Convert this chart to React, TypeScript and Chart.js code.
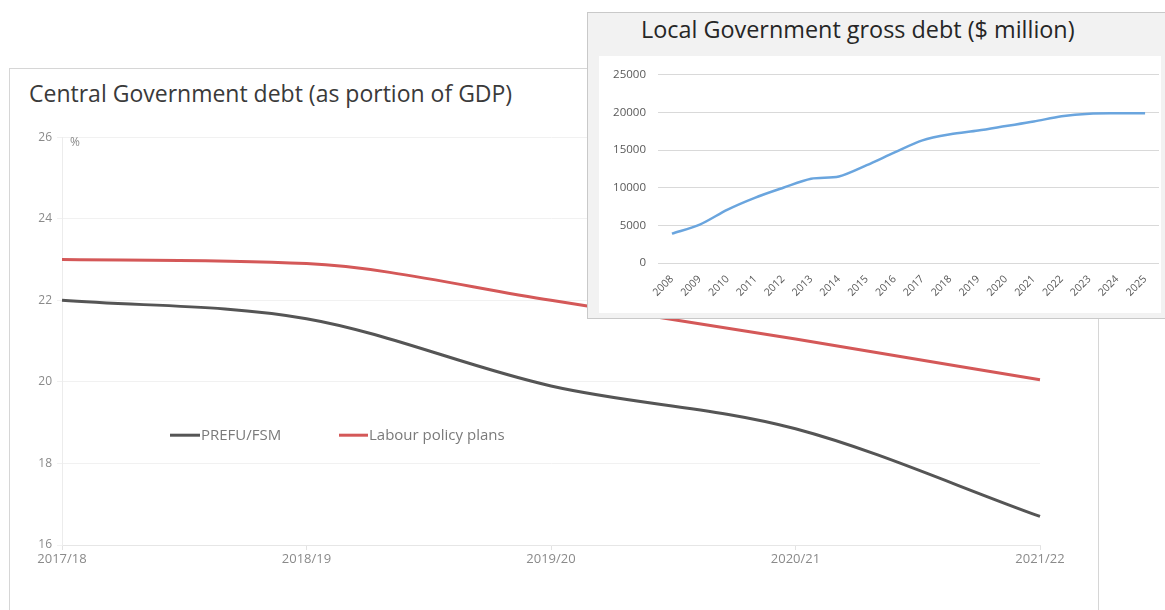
import React, { useEffect, useRef } from "react";
import { Chart, registerables } from "chart.js";

Chart.register(...registerables);

// ---- Central Government debt (% of GDP) ----
const mainCategories = ["2017/18", "2018/19", "2019/20", "2020/21", "2021/22"];
const prefuFsm = [22.0, 21.55, 19.9, 18.85, 16.7];
const labourPlans = [23.0, 22.9, 22.0, 21.05, 20.05];
const mainYMin = 16;
const mainYMax = 26;
const mainYStep = 2;
const mainSeriesNames = ["PREFU/FSM", "Labour policy plans"];

// ---- Local Government gross debt ($ million) ----
const localYears = [
  "2008", "2009", "2010", "2011", "2012", "2013", "2014", "2015", "2016",
  "2017", "2018", "2019", "2020", "2021", "2022", "2023", "2024", "2025",
];
const localDebt = [
  3900, 5100, 7100, 8700, 10000, 11200, 11500, 13000, 14700,
  16300, 17100, 17600, 18200, 18800, 19500, 19850, 19900, 19900,
];
const localYMax = 25000;
const localYStep = 5000;

const GRAY = "#555555";
const RED = "#d45858";
const BLUE = "#6aa5de";

const legendPlugin = {
  id: "inlineLegend",
  afterDraw(chart: any) {
    const { ctx, chartArea } = chart;
    const y = chartArea.top + 298;
    const items = [
      { x: chartArea.left + 108, len: 30, color: GRAY, text: mainSeriesNames[0] },
      { x: chartArea.left + 277, len: 29, color: RED, text: mainSeriesNames[1] },
    ];
    ctx.save();
    for (const it of items) {
      ctx.strokeStyle = it.color;
      ctx.lineWidth = 3;
      ctx.beginPath();
      ctx.moveTo(it.x, y);
      ctx.lineTo(it.x + it.len, y);
      ctx.stroke();
      ctx.fillStyle = "#7a7a7a";
      ctx.font = "15px 'Open Sans', sans-serif";
      ctx.textBaseline = "middle";
      ctx.textAlign = "left";
      ctx.fillText(it.text, it.x + it.len + 1, y + 1);
    }
    // unit label
    ctx.fillStyle = "#8a8a8a";
    ctx.font = "12px 'Open Sans', sans-serif";
    ctx.textBaseline = "middle";
    ctx.fillText("%", chartArea.left + 8, chartArea.top + 5);
    ctx.restore();
  },
};

function MainChart() {
  const ref = useRef<HTMLCanvasElement>(null);
  useEffect(() => {
    if (!ref.current) return;
    const chart = new Chart(ref.current, {
      type: "line",
      data: {
        labels: mainCategories,
        datasets: [
          {
            label: mainSeriesNames[0],
            data: prefuFsm,
            borderColor: GRAY,
            borderWidth: 3,
            pointRadius: 0,
            cubicInterpolationMode: "monotone",
          },
          {
            label: mainSeriesNames[1],
            data: labourPlans,
            borderColor: RED,
            borderWidth: 3,
            pointRadius: 0,
            cubicInterpolationMode: "monotone",
          },
        ],
      },
      options: {
        animation: false,
        responsive: false,
        maintainAspectRatio: false,
        layout: { padding: { top: 10, right: 50, left: 0, bottom: 0 } },
        plugins: { legend: { display: false }, tooltip: { enabled: false } },
        scales: {
          x: {
            offset: false,
            grid: { drawOnChartArea: false, drawTicks: true, tickLength: 5, color: "#e2e2e2" },
            border: { color: "#e6e6e6" },
            ticks: {
              color: "#8a8a8a",
              font: { size: 13, family: "'Open Sans', sans-serif" },
              padding: 1,
              maxRotation: 0,
              autoSkip: false,
            },
            afterFit: (s: any) => {
              s.height = 40;
            },
          },
          y: {
            min: mainYMin,
            max: mainYMax,
            grid: { color: "#f1f1f1", tickLength: 5, drawTicks: true },
            border: { color: "#ececec" },
            ticks: {
              stepSize: mainYStep,
              color: "#8a8a8a",
              font: { size: 12, family: "'Open Sans', sans-serif" },
              padding: 5,
            },
            afterFit: (s: any) => {
              s.width = 52;
            },
          },
        },
      },
      plugins: [legendPlugin],
    } as any);
    return () => chart.destroy();
  }, []);
  return <canvas ref={ref} width={1080} height={460} style={{ position: "absolute", left: 10, top: 125, width: 1080, height: 460 }} />;
}

function LocalChart() {
  const ref = useRef<HTMLCanvasElement>(null);
  useEffect(() => {
    if (!ref.current) return;
    const chart = new Chart(ref.current, {
      type: "line",
      data: {
        labels: localYears,
        datasets: [
          {
            label: "Local Government gross debt",
            data: localDebt,
            borderColor: BLUE,
            borderWidth: 2.5,
            pointRadius: 0,
            tension: 0.3,
          },
        ],
      },
      options: {
        animation: false,
        responsive: false,
        maintainAspectRatio: false,
        layout: { padding: { top: 17, right: 2, left: 0, bottom: 0 } },
        plugins: { legend: { display: false }, tooltip: { enabled: false } },
        scales: {
          x: {
            offset: true,
            grid: { display: false },
            border: { display: false },
            ticks: {
              color: "#595959",
              font: { size: 10.5, family: "'Open Sans', sans-serif" },
              minRotation: 45,
              maxRotation: 45,
              autoSkip: false,
              padding: 2,
            },
            afterFit: (s: any) => {
              s.height = 50;
            },
          },
          y: {
            min: 0,
            max: localYMax,
            grid: { color: "#d9d9d9", drawTicks: false },
            border: { display: false },
            ticks: {
              stepSize: localYStep,
              color: "#595959",
              font: { size: 11.5, family: "'Open Sans', sans-serif" },
              padding: 12,
              callback: (v: any) => String(v),
            },
            afterFit: (s: any) => {
              s.width = 59;
            },
          },
        },
      },
    } as any);
    return () => chart.destroy();
  }, []);
  return <canvas ref={ref} width={562} height={257} style={{ position: "absolute", left: 11, top: 43, width: 562, height: 257 }} />;
}

export default function App() {
  return (
    <div style={{ position: "absolute", left: 0, top: 0, width: 1165, height: 610, overflow: "hidden", background: "#fff" }}>
      {/* main chart frame */}
      <div
        style={{
          position: "absolute",
          left: 9,
          top: 68,
          width: 1090,
          height: 600,
          border: "1px solid #d6d6d6",
          boxSizing: "border-box",
        }}
      />
      <div
        style={{
          position: "absolute",
          left: 29,
          top: 77,
          fontFamily: "'Open Sans', sans-serif",
          fontSize: 23,
          color: "#3a3a3a",
          whiteSpace: "nowrap",
        }}
      >
        Central Government debt (as portion of GDP)
      </div>
      <MainChart />
      {/* inset */}
      <div
        style={{
          position: "absolute",
          left: 587,
          top: 12,
          width: 590,
          height: 307,
          background: "#f2f2f2",
          border: "1px solid #c9c9c9",
          boxSizing: "border-box",
        }}
      >
        <div
          style={{
            position: "absolute",
            left: 11,
            top: 43,
            width: 562,
            height: 257,
            background: "#fff",
          }}
        />
        <div
          style={{
            position: "absolute",
            left: 53,
            top: 0,
            fontFamily: "'Open Sans', sans-serif",
            fontSize: 23.4,
            color: "#262626",
            whiteSpace: "nowrap",
          }}
        >
          Local Government gross debt ($ million)
        </div>
        <LocalChart />
      </div>
    </div>
  );
}
